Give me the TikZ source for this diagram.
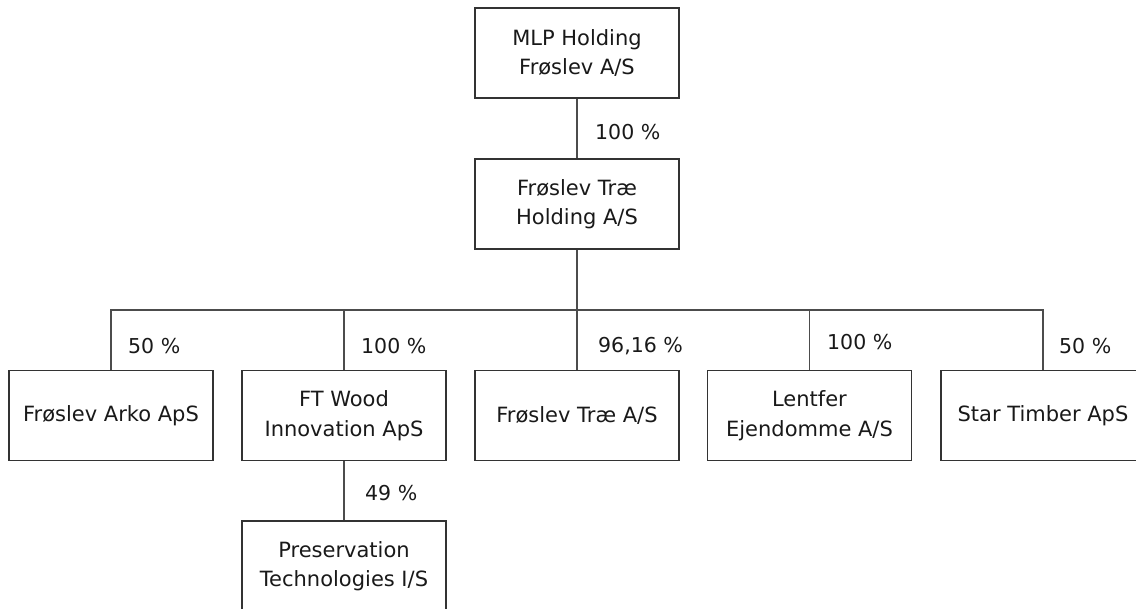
\documentclass[tikz,border=0pt]{standalone}
\usepackage{fontspec}
\setmainfont{DejaVu Sans}
\begin{document}
\begin{tikzpicture}[x=1pt,y=-1pt,
  company/.style={draw=black!80, line width=1.3pt, rectangle, minimum width=204pt, minimum height=90pt, align=center, inner sep=0pt, font=\fontsize{21}{29.5}\selectfont, text=black!90},
  pct/.style={anchor=west, inner sep=0pt, font=\fontsize{20.5}{24}\selectfont, text=black!90},
  link/.style={draw=black!70, line width=1.3pt}]
\useasboundingbox (0,0) rectangle (1136,609);
\clip (0,0) rectangle (1136,609);
\node[company] (mlp) at (577,53) {MLP Holding\\Frøslev A/S};
\node[company] (fth) at (577,204) {Frøslev Træ\\Holding A/S};
\node[company] (arko) at (111,415.5) {Frøslev Arko ApS};
\node[company] (ftw) at (344,415.5) {FT Wood\\Innovation ApS};
\node[company] (ftr) at (577,415.5) {Frøslev Træ A/S};
\node[company] (len) at (809.5,415.5) {Lentfer\\Ejendomme A/S};
\node[company] (star) at (1043,415.5) {Star Timber ApS};
\node[company] (pres) at (344,566) {Preservation\\Technologies I/S};
\coordinate (bus) at (577,310);
\draw[link] (mlp.south) -- (fth.north);
\draw[link] (fth.south) -- (bus);
\draw[link] (arko.north) |- (bus);
\draw[link] (ftw.north) |- (bus);
\draw[link] (ftr.north) -- (bus);
\draw[link] (len.north) |- (bus);
\draw[link] (star.north) |- (bus);
\draw[link] (ftw.south) -- (pres.north);
\node[pct] (p1) at (595,132) {100 \%};
\node[pct] (p2) at (128,346) {50 \%};
\node[pct] (p3) at (361,346) {100 \%};
\node[pct] (p4) at (598,346) {96,16 \%};
\node[pct] (p5) at (827,342) {100 \%};
\node[pct] (p6) at (1059,346) {50 \%};
\node[pct] (p7) at (365,493) {49 \%};
\end{tikzpicture}
\end{document}
